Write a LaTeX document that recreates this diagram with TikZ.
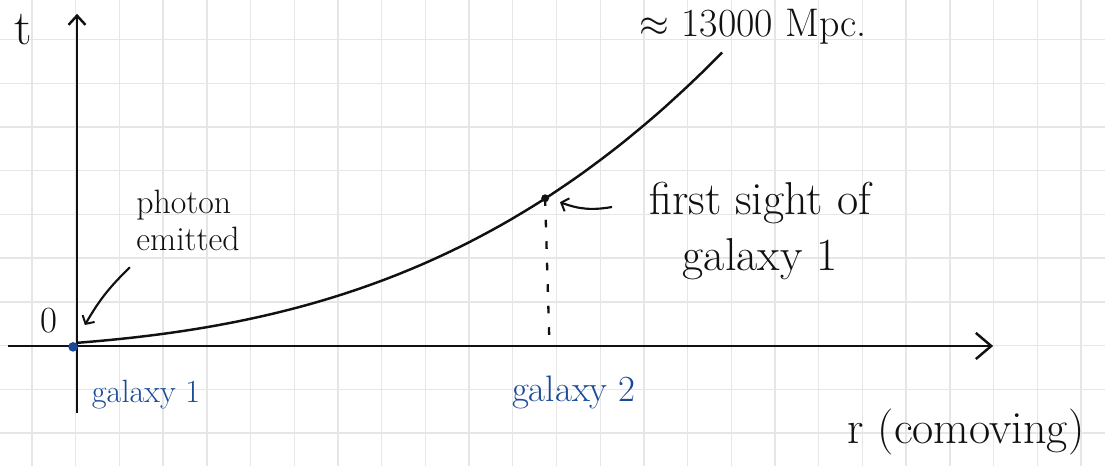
\documentclass[tikz,border=0pt]{standalone}
\usepackage{tikz}
\usetikzlibrary{arrows.meta,positioning,calc}
\usepackage{xcolor}
\definecolor{ink}{HTML}{111111}
\definecolor{pen}{HTML}{1A4A96}
\definecolor{paper}{HTML}{E6E6E6}
\tikzset{
  >=Latex,
  gridline/.style={draw=paper,line width=0.9pt},
  axis/.style={draw=ink,line width=1.9pt,-{Straight Barb[length=10pt,width=17pt,line width=1.6pt]}},
  worldline/.style={draw=ink,line width=1.6pt},
  pointer/.style={draw=ink,line width=1.4pt,-{Straight Barb[length=4pt,width=9pt,line width=1.3pt]}},
  dropline/.style={draw=ink,line width=1.5pt,dash pattern=on 5pt off 9pt},
  hand/.style={text=ink,inner sep=0pt,font=\fontsize{24}{28}\selectfont},
  bluehand/.style={hand,text=pen},
}

\begin{document}
\begin{tikzpicture}
\useasboundingbox (-1.732,-2.757) rectangle (23.55,7.906);
\fill[white] (-1.732,-2.757) rectangle (23.55,7.906);
\draw[gridline,step=1] (-1.732,-2.757) grid (23.55,7.906);

% axes
\coordinate (O) at (0,0);
\coordinate (ybot) at (0.03,-1.54);
\coordinate (ytop) at (0.03,7.59);
\coordinate (xleft) at (-1.55,-0.01);
\coordinate (xright) at (20.99,-0.01);
\draw[axis,-{Straight Barb[length=6pt,width=11pt,line width=1.6pt]}] (ybot) -- (ytop);
\draw[axis] (xleft) -- (xright);

% light path
\draw[worldline] plot[domain=0.03:14.79,samples=80] (\x,{0.06+0.0771*\x+0.01164*\x*\x+0.000919*\x*\x*\x});
\coordinate (meet) at (10.74,3.37);
\coordinate (foot) at (10.84,0);
\draw[dropline] (meet) -- (foot);
\fill[ink] (meet) circle (0.09);
\fill[pen] (-0.06,-0.03) circle (0.11);

\node[hand,font=\fontsize{26}{30}\selectfont,anchor=base] (dist) at (15.5,7.08) {$\approx$ 13000 Mpc.};
\node[hand,font=\fontsize{32}{36}\selectfont] (tlabel) at (-1.21,7.22) {t};
\node[hand] (zero) at (-0.61,0.58) {0};
\node[hand,font=\fontsize{22}{24}\selectfont,align=left] (photon) at (2.57,2.87) {photon\\emitted};
\node[hand,font=\fontsize{30}{36}\selectfont,align=center] (sight) at (15.66,2.62) {first sight of\\galaxy 1};
\node[hand,font=\fontsize{30}{34}\selectfont] (xlabel) at (20.37,-1.98) {r (comoving)};
\node[bluehand,font=\fontsize{21}{24}\selectfont] (gal1) at (1.61,-1.12) {galaxy 1};
\node[bluehand] (gal2) at (11.4,-1.07) {galaxy 2};

\coordinate (photontail) at (1.24,1.79);
\coordinate (photontip) at (0.21,0.47);
\coordinate (sighttail) at (12.27,3.17);
\coordinate (sighttip) at (11.08,3.28);
\draw[pointer] (photontail) to[bend right=8] (photontip);
\draw[pointer] (sighttail) to[bend left=15] (sighttip);

\end{tikzpicture}
\end{document}
